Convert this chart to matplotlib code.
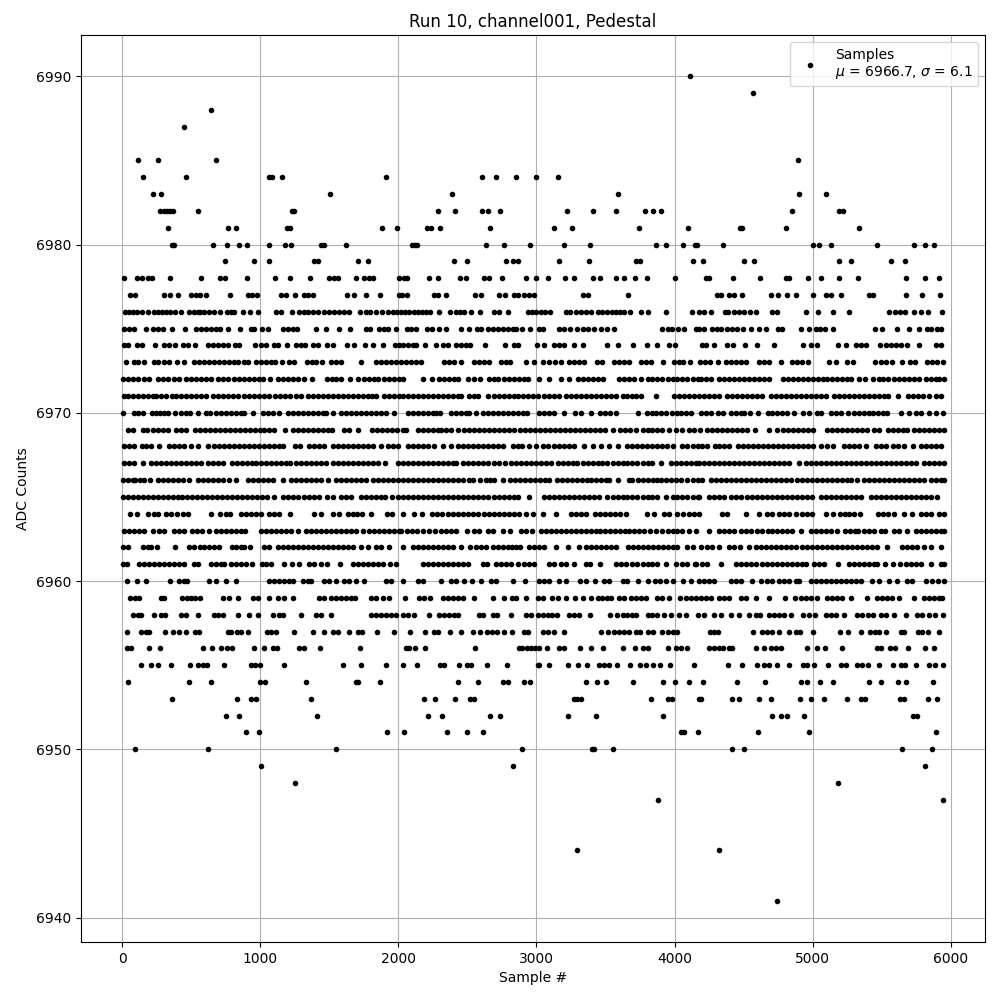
import matplotlib
matplotlib.use("Agg")
import matplotlib.pyplot as plt

# Sample numbers, grouped by the ADC count they sit on
s6990 = [4110]
s6989 = [4566]
s6988 = [644]
s6987 = [449]
s6985 = [116, 260, 680, 4892]
s6984 = [152, 463, 1064, 1085, 1158, 1910, 2605, 2706, 2851, 2996, 3155]
s6983 = [224, 282, 1505, 2388, 3589, 4899, 5094]
s6982 = [275, 304, 326, 347, 369, 550, 1230, 1245, 2287, 2410, 2605, 2648, 2735, 3220, 3408, 3575, 3784, 3842, 3900, 4850, 5188, 5217]
s6981 = [333, 767, 825, 1194, 1216, 1881, 1990, 2207, 2236, 2301, 2663, 3126, 3256, 3741, 4096, 4472, 4486, 4805, 5333]
s6980 = [362, 376, 658, 760, 847, 905, 1064, 1180, 1223, 1440, 1462, 1621, 2098, 2120, 2135, 2634, 2764, 2952, 3198, 3386, 3864, 3936, 4060, 4146, 4161, 4349, 5000, 5043, 5130, 5463, 5731, 5810, 5875]
s6979 = [745, 958, 1066, 1392, 1421, 1708, 1782, 2405, 2499, 2781, 2829, 2863, 3165, 3382, 3719, 3748, 4137, 4207, 4503, 4576, 5191, 5278, 5567, 5668]
s6978 = [17, 108, 142, 186, 215, 350, 569, 711, 748, 907, 1109, 1213, 1363, 1500, 1532, 1560, 1696, 1754, 1785, 1814, 2007, 2043, 2062, 2224, 2289, 2448, 2489, 2617, 2653, 2752, 2926, 2998, 3085, 3208, 3273, 3411, 3461, 3577, 3635, 3715, 3801, 4004, 4226, 4250, 4424, 4619, 4805, 4829, 4966, 5060, 5191, 5328, 5676, 5813, 5914]
s6977 = [60, 96, 306, 350, 408, 499, 535, 567, 608, 784, 909, 938, 979, 1150, 1187, 1254, 1319, 1348, 1382, 1628, 1681, 1768, 1867, 2007, 2025, 2060, 2260, 2289, 2347, 2554, 2598, 2731, 2774, 2834, 2868, 2907, 2948, 2984, 3334, 3375, 3664, 4306, 4334, 4395, 4431, 4489, 4696, 4749, 4814, 4880, 5003, 5094, 5130, 5205, 5408, 5439, 5676, 5791, 5924]
s6976 = [22, 51, 80, 108, 142, 190, 234, 263, 292, 321, 350, 383, 427, 487, 519, 548, 567, 596, 629, 663, 711, 760, 789, 813, 873, 926, 986, 1114, 1150, 1228, 1283, 1315, 1348, 1380, 1416, 1459, 1500, 1536, 1573, 1609, 1645, 1725, 1766, 1797, 1838, 1881, 1927, 1958, 1990, 2019, 2050, 2080, 2110, 2140, 2170, 2200, 2231, 2296, 2376, 2417, 2445, 2475, 2525, 2593, 2694, 2731, 2796, 2936, 2965, 3000, 3030, 3060, 3100, 3213, 3245, 3285, 3321, 3358, 3394, 3442, 3478, 3514, 3545, 3575, 3605, 3635, 3678, 3756, 3809, 3939, 4129, 4178, 4214, 4267, 4366, 4388, 4431, 4467, 4503, 4544, 4590, 4708, 4740, 4952, 5039, 5150, 5263, 5552, 5596, 5630, 5666, 5733, 5784, 5835, 5938]
s6975 = [17, 53, 84, 174, 222, 258, 294, 359, 458, 535, 572, 608, 644, 680, 707, 767, 851, 933, 957, 1011, 1054, 1162, 1199, 1235, 1264, 1406, 1476, 1570, 1652, 1766, 1792, 1862, 1893, 1923, 1983, 2062, 2091, 2128, 2207, 2241, 2296, 2347, 2456, 2513, 2569, 2598, 2646, 2682, 2718, 2755, 2791, 2827, 2851, 2892, 2955, 3020, 3044, 3160, 3201, 3244, 3297, 3334, 3370, 3418, 3466, 3514, 3563, 3912, 3949, 3978, 4026, 4069, 4153, 4178, 4214, 4274, 4306, 4334, 4383, 4419, 4450, 4496, 4554, 4612, 4665, 4749, 4781, 4916, 4976, 5022, 5053, 5087, 5150, 5449, 5502, 5610, 5700, 5767, 5825, 5859, 5902, 5931]
s6974 = [17, 46, 108, 142, 241, 306, 342, 383, 444, 480, 531, 620, 656, 692, 728, 765, 818, 849, 962, 1006, 1042, 1097, 1131, 1194, 1259, 1295, 1324, 1380, 1421, 1481, 1524, 1630, 1681, 1761, 1819, 1886, 1975, 2007, 2031, 2067, 2103, 2128, 2195, 2272, 2320, 2357, 2417, 2453, 2489, 2521, 2629, 2774, 2834, 2868, 3001, 3056, 3124, 3165, 3196, 3273, 3338, 3514, 3592, 3700, 3801, 3874, 3961, 4002, 4195, 4226, 4286, 4378, 4426, 4510, 4595, 4720, 4933, 4986, 5034, 5183, 5244, 5311, 5347, 5386, 5487, 5528, 5565, 5601, 5637, 5685, 5770, 5890, 5926]
s6973 = [29, 89, 118, 162, 229, 263, 301, 342, 395, 451, 519, 559, 596, 632, 668, 704, 740, 777, 813, 837, 885, 909, 970, 1006, 1042, 1078, 1107, 1155, 1211, 1242, 1339, 1372, 1404, 1450, 1512, 1548, 1585, 1729, 1838, 1874, 1910, 1946, 1983, 2019, 2055, 2091, 2128, 2164, 2333, 2369, 2405, 2453, 2545, 2586, 2622, 2658, 2743, 2779, 2810, 2923, 2979, 3051, 3092, 3133, 3177, 3237, 3273, 3309, 3346, 3435, 3478, 3563, 3599, 3635, 3671, 3756, 3792, 3828, 3917, 3997, 4033, 4064, 4113, 4185, 4219, 4257, 4315, 4371, 4407, 4443, 4479, 4515, 4612, 4648, 4684, 4773, 4853, 4889, 4925, 4966, 5118, 5167, 5251, 5294, 5449, 5492, 5528, 5577, 5649, 5704, 5738, 5830, 5866, 5902, 5946]
s6972 = [5, 41, 82, 113, 162, 198, 263, 299, 330, 379, 415, 463, 499, 535, 572, 608, 644, 692, 728, 765, 813, 849, 885, 921, 957, 994, 1023, 1073, 1126, 1162, 1199, 1235, 1271, 1319, 1372, 1483, 1517, 1548, 1585, 1652, 1710, 1754, 1790, 1826, 1855, 1898, 1934, 1966, 2007, 2031, 2176, 2243, 2296, 2333, 2369, 2405, 2434, 2501, 2545, 2593, 2658, 2694, 2718, 2767, 2803, 2839, 2875, 2911, 2936, 3020, 3092, 3177, 3237, 3302, 3338, 3375, 3411, 3447, 3485, 3599, 3635, 3671, 3707, 3756, 3804, 3840, 3876, 3912, 3949, 3985, 4021, 4057, 4093, 4130, 4166, 4190, 4226, 4267, 4322, 4359, 4395, 4431, 4467, 4503, 4539, 4576, 4612, 4648, 4684, 4785, 4822, 4858, 4894, 4930, 4966, 5003, 5039, 5075, 5106, 5142, 5179, 5215, 5251, 5275, 5335, 5379, 5437, 5480, 5511, 5545, 5589, 5625, 5661, 5697, 5733, 5770, 5818, 5854, 5890, 5914, 5950]
s6971 = [12, 46, 80, 113, 149, 186, 222, 246, 282, 318, 359, 391, 427, 463, 499, 535, 572, 608, 656, 692, 728, 765, 801, 837, 885, 921, 957, 994, 1030, 1066, 1107, 1143, 1179, 1216, 1259, 1295, 1343, 1380, 1416, 1452, 1488, 1524, 1560, 1597, 1633, 1669, 1705, 1741, 1778, 1807, 1838, 1898, 1934, 1971, 2007, 2031, 2067, 2103, 2140, 2176, 2212, 2248, 2284, 2320, 2357, 2393, 2429, 2453, 2513, 2550, 2579, 2651, 2694, 2731, 2767, 2803, 2839, 2863, 2899, 2936, 2972, 3008, 3056, 3092, 3128, 3165, 3213, 3249, 3285, 3321, 3358, 3394, 3430, 3466, 3502, 3539, 3575, 3623, 3659, 3695, 3719, 3760, 3867, 3997, 4033, 4069, 4105, 4141, 4178, 4214, 4250, 4286, 4322, 4383, 4419, 4455, 4491, 4527, 4564, 4600, 4636, 4696, 4732, 4769, 4805, 4841, 4877, 4913, 4950, 4986, 5022, 5058, 5094, 5155, 5191, 5227, 5263, 5299, 5335, 5372, 5408, 5444, 5480, 5516, 5545, 5615, 5690, 5726, 5762, 5798, 5842, 5890, 5926]
s6970 = [10, 84, 118, 149, 215, 246, 277, 306, 330, 383, 427, 463, 494, 552, 608, 639, 680, 716, 753, 789, 825, 861, 885, 945, 1023, 1054, 1090, 1138, 1199, 1235, 1271, 1307, 1343, 1380, 1416, 1452, 1476, 1529, 1585, 1621, 1657, 1693, 1729, 1766, 1802, 1838, 1874, 1910, 1971, 2072, 2103, 2140, 2176, 2212, 2248, 2272, 2304, 2381, 2417, 2453, 2489, 2513, 2564, 2610, 2646, 2682, 2718, 2755, 2791, 2827, 2863, 2899, 2931, 3020, 3056, 3092, 3128, 3196, 3281, 3321, 3396, 3459, 3495, 3534, 3575, 3736, 3799, 3833, 3869, 3905, 3941, 3978, 4014, 4045, 4081, 4117, 4190, 4226, 4267, 4315, 4354, 4407, 4443, 4479, 4503, 4544, 4605, 4677, 4708, 4744, 4781, 4817, 4865, 4933, 4974, 5029, 5058, 5130, 5167, 5203, 5258, 5299, 5335, 5372, 5408, 5439, 5473, 5509, 5540, 5637, 5697, 5748, 5782, 5842, 5890, 5943]
s6969 = [41, 77, 149, 178, 222, 258, 294, 330, 391, 427, 463, 531, 567, 603, 639, 675, 711, 748, 784, 820, 856, 892, 929, 965, 1001, 1030, 1066, 1102, 1179, 1235, 1271, 1307, 1343, 1380, 1416, 1452, 1488, 1517, 1604, 1645, 1705, 1807, 1843, 1879, 1915, 1951, 1987, 2031, 2055, 2140, 2176, 2212, 2248, 2284, 2308, 2345, 2381, 2429, 2477, 2513, 2550, 2586, 2622, 2658, 2694, 2731, 2767, 2803, 2839, 2882, 2919, 2955, 2991, 3027, 3063, 3100, 3136, 3172, 3208, 3244, 3281, 3317, 3353, 3389, 3425, 3461, 3498, 3551, 3604, 3640, 3676, 3719, 3768, 3804, 3840, 3876, 3912, 3961, 4009, 4057, 4105, 4141, 4182, 4238, 4274, 4310, 4346, 4383, 4419, 4455, 4491, 4527, 4583, 4684, 4740, 4788, 4824, 4860, 4896, 4933, 4969, 5005, 5106, 5142, 5179, 5215, 5251, 5287, 5319, 5360, 5391, 5444, 5483, 5548, 5584, 5620, 5656, 5685, 5733, 5770, 5806, 5842, 5878, 5914, 5950]
s6968 = [12, 53, 89, 142, 174, 210, 270, 342, 379, 415, 451, 499, 548, 620, 668, 704, 740, 777, 813, 849, 885, 921, 957, 994, 1030, 1066, 1102, 1138, 1162, 1252, 1288, 1356, 1392, 1428, 1459, 1524, 1560, 1597, 1633, 1669, 1705, 1741, 1778, 1814, 1874, 1922, 1958, 1995, 2072, 2108, 2144, 2181, 2217, 2260, 2320, 2381, 2429, 2465, 2501, 2538, 2574, 2610, 2646, 2682, 2723, 2755, 2832, 2868, 2892, 2948, 2996, 3051, 3087, 3124, 3160, 3196, 3237, 3273, 3341, 3406, 3466, 3527, 3587, 3654, 3691, 3727, 3763, 3799, 3835, 3871, 3908, 3944, 3990, 4057, 4093, 4130, 4166, 4202, 4238, 4291, 4322, 4359, 4395, 4460, 4496, 4532, 4568, 4605, 4641, 4677, 4713, 4749, 4785, 4822, 4858, 4894, 4930, 4966, 5003, 5058, 5101, 5150, 5227, 5263, 5299, 5335, 5384, 5456, 5492, 5528, 5584, 5620, 5661, 5726, 5782, 5818, 5854, 5890, 5926]
s6967 = [17, 53, 89, 154, 210, 246, 282, 318, 354, 391, 427, 463, 499, 535, 572, 620, 656, 692, 728, 794, 830, 866, 902, 938, 970, 1006, 1042, 1078, 1114, 1150, 1187, 1218, 1259, 1295, 1331, 1368, 1404, 1440, 1476, 1524, 1560, 1597, 1633, 1669, 1705, 1741, 1778, 1814, 1855, 1905, 1995, 2031, 2067, 2103, 2140, 2176, 2212, 2248, 2284, 2320, 2357, 2393, 2417, 2465, 2501, 2538, 2574, 2610, 2646, 2694, 2731, 2771, 2815, 2851, 2887, 2923, 2960, 2996, 3032, 3068, 3104, 3153, 3189, 3225, 3261, 3297, 3334, 3370, 3406, 3442, 3478, 3514, 3551, 3587, 3623, 3659, 3695, 3731, 3768, 3804, 3840, 3905, 3973, 4009, 4045, 4081, 4117, 4153, 4178, 4214, 4250, 4286, 4322, 4359, 4395, 4431, 4467, 4503, 4539, 4576, 4612, 4648, 4684, 4720, 4757, 4793, 4829, 4901, 4950, 4986, 5022, 5058, 5094, 5130, 5167, 5203, 5239, 5275, 5311, 5347, 5384, 5420, 5456, 5492, 5528, 5565, 5601, 5637, 5673, 5709, 5745, 5806, 5842, 5878, 5914, 5950]
s6966 = [5, 41, 77, 94, 133, 162, 205, 263, 299, 335, 371, 408, 444, 487, 548, 584, 620, 656, 692, 728, 777, 827, 909, 945, 982, 1018, 1054, 1090, 1167, 1223, 1259, 1295, 1331, 1368, 1404, 1440, 1488, 1548, 1585, 1621, 1657, 1693, 1729, 1766, 1814, 1850, 1886, 1922, 1958, 1995, 2031, 2067, 2103, 2140, 2176, 2212, 2248, 2284, 2320, 2357, 2393, 2429, 2465, 2513, 2538, 2593, 2634, 2665, 2694, 2755, 2810, 2846, 2882, 2919, 2955, 2991, 3027, 3063, 3092, 3148, 3184, 3220, 3256, 3292, 3329, 3365, 3394, 3430, 3466, 3502, 3527, 3587, 3671, 3695, 3736, 3772, 3809, 3845, 3871, 3900, 3936, 3973, 4009, 4045, 4093, 4130, 4166, 4202, 4262, 4298, 4334, 4371, 4407, 4443, 4479, 4515, 4552, 4588, 4624, 4660, 4696, 4732, 4769, 4805, 4841, 4884, 4921, 4957, 4993, 5029, 5065, 5101, 5138, 5174, 5210, 5246, 5275, 5319, 5372, 5408, 5444, 5480, 5516, 5552, 5589, 5625, 5661, 5697, 5733, 5770, 5806, 5854, 5890, 5926, 5950]
s6965 = [5, 41, 77, 113, 149, 186, 222, 258, 294, 330, 366, 403, 434, 470, 506, 543, 579, 615, 651, 687, 723, 760, 796, 832, 868, 904, 940, 977, 1013, 1049, 1097, 1162, 1199, 1235, 1271, 1319, 1356, 1392, 1428, 1483, 1524, 1585, 1621, 1657, 1729, 1766, 1802, 1838, 1874, 1903, 1951, 1995, 2031, 2067, 2103, 2140, 2176, 2212, 2248, 2284, 2320, 2361, 2398, 2434, 2470, 2506, 2542, 2579, 2615, 2651, 2690, 2726, 2762, 2798, 2834, 2870, 2948, 3056, 3092, 3128, 3165, 3201, 3237, 3273, 3309, 3346, 3382, 3418, 3454, 3514, 3551, 3587, 3623, 3659, 3695, 3731, 3768, 3804, 3840, 3876, 3936, 3985, 4021, 4057, 4093, 4130, 4166, 4178, 4250, 4286, 4322, 4359, 4407, 4443, 4479, 4527, 4564, 4600, 4636, 4672, 4708, 4744, 4781, 4817, 4853, 4889, 4925, 4961, 4998, 5058, 5094, 5130, 5167, 5203, 5239, 5275, 5311, 5347, 5420, 5456, 5492, 5528, 5565, 5601, 5637, 5673, 5709, 5745, 5782, 5818, 5854, 5902]
s6964 = [60, 108, 186, 234, 263, 318, 354, 398, 439, 480, 644, 711, 753, 784, 861, 897, 933, 970, 1006, 1066, 1097, 1134, 1218, 1392, 1440, 1524, 1573, 1638, 1669, 1700, 1737, 1802, 1918, 1951, 2031, 2111, 2169, 2241, 2279, 2313, 2357, 2393, 2429, 2465, 2501, 2538, 2579, 2622, 2658, 2694, 2731, 2767, 2803, 2839, 2875, 2923, 2972, 3044, 3143, 3249, 3285, 3321, 3358, 3423, 3459, 3495, 3531, 3568, 3604, 3647, 3799, 3852, 3924, 3961, 4021, 4064, 4105, 4141, 4178, 4346, 4383, 4515, 4612, 4672, 4708, 4757, 4793, 4829, 4877, 4925, 4961, 4998, 5094, 5150, 5198, 5232, 5263, 5299, 5343, 5473, 5509, 5545, 5589, 5661, 5716, 5782, 5818, 5854, 5914, 5950]
s6963 = [17, 53, 89, 125, 162, 222, 270, 306, 374, 410, 446, 504, 543, 579, 632, 680, 716, 753, 789, 825, 861, 890, 1006, 1042, 1078, 1114, 1150, 1187, 1223, 1276, 1331, 1368, 1404, 1440, 1476, 1512, 1548, 1585, 1621, 1657, 1693, 1746, 1790, 1826, 1862, 1898, 1934, 1971, 2007, 2019, 2062, 2099, 2135, 2176, 2224, 2267, 2308, 2345, 2381, 2417, 2497, 2545, 2581, 2646, 2682, 2755, 2810, 2887, 2923, 2965, 3032, 3068, 3104, 3140, 3177, 3213, 3249, 3285, 3321, 3358, 3394, 3430, 3459, 3495, 3531, 3568, 3604, 3640, 3671, 3707, 3743, 3780, 3823, 3864, 3912, 3949, 3985, 4021, 4057, 4105, 4154, 4250, 4322, 4359, 4395, 4431, 4479, 4515, 4552, 4595, 4636, 4677, 4708, 4744, 4781, 4817, 4853, 4913, 4991, 5027, 5063, 5099, 5135, 5179, 5232, 5268, 5304, 5328, 5372, 5408, 5444, 5492, 5521, 5589, 5625, 5680, 5745, 5782, 5818, 5854, 5890, 5926, 5950]
s6962 = [5, 46, 149, 186, 210, 253, 386, 487, 519, 567, 596, 632, 663, 704, 794, 825, 861, 885, 929, 1025, 1066, 1126, 1162, 1199, 1235, 1271, 1307, 1343, 1380, 1416, 1452, 1488, 1524, 1560, 1597, 1633, 1669, 1729, 1778, 1838, 1874, 1934, 2031, 2103, 2140, 2176, 2212, 2248, 2284, 2320, 2357, 2393, 2453, 2521, 2562, 2598, 2634, 2682, 2718, 2755, 2791, 2820, 2851, 2882, 2948, 2984, 3020, 3056, 3140, 3230, 3305, 3358, 3394, 3430, 3466, 3502, 3539, 3575, 3664, 3700, 3736, 3772, 3809, 3845, 3881, 3917, 3953, 3990, 4021, 4093, 4130, 4190, 4238, 4274, 4322, 4395, 4431, 4474, 4539, 4588, 4624, 4660, 4696, 4732, 4769, 4805, 4841, 4877, 4925, 4961, 4998, 5034, 5070, 5106, 5142, 5179, 5215, 5251, 5287, 5323, 5360, 5396, 5432, 5468, 5536, 5649, 5685, 5721, 5757, 5806, 5854, 5926]
s6961 = [5, 36, 125, 157, 198, 234, 270, 306, 342, 379, 415, 451, 519, 552, 644, 680, 716, 740, 789, 825, 861, 897, 938, 1011, 1042, 1078, 1170, 1228, 1283, 1356, 1392, 1440, 1483, 1580, 1669, 1705, 1741, 1778, 1814, 1850, 1886, 1942, 1983, 2176, 2212, 2248, 2284, 2320, 2357, 2393, 2429, 2465, 2501, 2610, 2641, 2706, 2743, 2779, 2815, 2863, 2911, 2948, 2984, 3092, 3128, 3177, 3213, 3273, 3358, 3389, 3461, 3575, 3611, 3647, 3695, 3731, 3768, 3804, 3840, 3876, 3936, 4009, 4057, 4093, 4154, 4146, 4202, 4238, 4339, 4443, 4479, 4515, 4552, 4588, 4636, 4672, 4708, 4744, 4781, 4817, 4853, 4889, 4925, 4950, 5010, 5046, 5082, 5186, 5263, 5299, 5335, 5372, 5408, 5444, 5468, 5521, 5581, 5632, 5673, 5709, 5745, 5782, 5854, 5931, 5950]
s6960 = [34, 111, 176, 350, 415, 451, 470, 632, 680, 753, 827, 1066, 1102, 1138, 1175, 1211, 1235, 1307, 1343, 1368, 1464, 1500, 1548, 1609, 1645, 1693, 1749, 1910, 1946, 2031, 2140, 2176, 2308, 2381, 2417, 2477, 2530, 2598, 2670, 2706, 2827, 2916, 3020, 3056, 3092, 3165, 3213, 3314, 3362, 3423, 3490, 3527, 3623, 3659, 3736, 3809, 3857, 3893, 3936, 3985, 4064, 4117, 4178, 4214, 4250, 4286, 4407, 4443, 4479, 4564, 4624, 4667, 4708, 4757, 4793, 4829, 4877, 4901, 4986, 5022, 5058, 5094, 5130, 5167, 5203, 5239, 5275, 5311, 5347, 5432, 5480, 5552, 5608, 5685, 5721, 5823, 5866, 5907, 5950]
s6959 = [60, 96, 125, 282, 306, 434, 470, 499, 528, 567, 728, 777, 842, 945, 982, 1061, 1131, 1175, 1235, 1428, 1459, 1512, 1548, 1585, 1621, 1657, 1686, 1802, 1838, 1886, 1934, 2048, 2152, 2188, 2231, 2320, 2357, 2393, 2429, 2465, 2550, 2682, 2767, 2822, 2851, 2923, 3008, 3044, 3116, 3153, 3213, 3278, 3334, 3394, 3442, 3478, 3514, 3543, 3599, 3635, 3683, 3719, 3756, 3792, 3876, 3912, 3961, 4040, 4081, 4117, 4153, 4190, 4226, 4262, 4322, 4359, 4395, 4479, 4515, 4588, 4684, 4798, 4872, 4913, 4950, 4986, 5034, 5106, 5142, 5179, 5215, 5275, 5396, 5468, 5504, 5540, 5577, 5625, 5733, 5806, 5842, 5878, 5914, 5938]
s6958 = [77, 113, 137, 234, 282, 311, 427, 463, 548, 668, 692, 733, 842, 921, 986, 1090, 1138, 1162, 1295, 1404, 1440, 1512, 1802, 1838, 1874, 1910, 1946, 1983, 2031, 2067, 2111, 2224, 2296, 2333, 2369, 2405, 2429, 2586, 2615, 2682, 2714, 2817, 2923, 2960, 3008, 3044, 3080, 3116, 3148, 3237, 3273, 3309, 3389, 3534, 3580, 3623, 3659, 3695, 3719, 3804, 3840, 3876, 3924, 3973, 4033, 4084, 4173, 4214, 4286, 4334, 4407, 4467, 4539, 4588, 4619, 4684, 4720, 4757, 4793, 4846, 4933, 4974, 5015, 5094, 5130, 5167, 5227, 5319, 5360, 5400, 5439, 5492, 5528, 5589, 5676, 5753, 5794, 5842, 5885, 5943]
s6957 = [36, 137, 174, 198, 314, 371, 415, 465, 528, 559, 769, 789, 830, 861, 909, 1047, 1078, 1114, 1247, 1384, 1464, 1524, 1563, 1645, 1705, 1734, 1848, 1966, 2087, 2195, 2255, 2289, 2376, 2451, 2542, 2593, 2639, 2675, 2711, 2762, 2825, 2907, 2936, 3044, 3080, 3128, 3198, 3466, 3519, 3563, 3599, 3635, 3671, 3719, 3748, 3809, 3845, 3912, 3949, 3985, 4016, 4257, 4286, 4315, 4568, 4636, 4672, 4708, 4757, 4829, 4877, 4908, 5003, 5196, 5256, 5350, 5415, 5451, 5483, 5531, 5637, 5661, 5762, 5794, 5835, 5914]
s6956 = [36, 65, 193, 277, 588, 654, 714, 757, 798, 957, 1030, 1090, 1119, 1283, 1319, 1435, 1724, 2055, 2079, 2123, 2195, 2557, 2875, 2892, 2931, 2960, 2989, 3020, 3078, 3165, 3196, 3317, 3394, 3483, 3628, 3715, 3768, 3804, 3953, 4009, 4045, 4089, 4250, 4286, 4322, 4354, 4395, 4419, 4588, 4648, 4696, 4732, 4771, 4959, 5031, 5089, 5212, 5468, 5492, 5560, 5594, 5688, 5813, 5878]
s6955 = [140, 212, 263, 357, 494, 552, 584, 615, 740, 933, 965, 996, 1175, 1602, 1732, 1913, 2036, 2137, 2304, 2333, 2441, 2497, 2526, 2641, 2788, 3008, 3022, 3092, 3230, 3302, 3367, 3454, 3490, 3527, 3584, 3678, 3748, 3794, 3845, 3895, 3965, 4141, 4388, 4489, 4600, 4648, 4684, 4742, 4829, 4930, 4957, 5010, 5109, 5208, 5244, 5323, 5360, 5400, 5480, 5581, 5637, 5666, 5748, 5842, 5888, 5943]
s6954 = [46, 487, 646, 999, 1035, 1334, 1693, 1710, 1869, 2434, 2579, 2760, 2796, 2911, 2955, 3360, 3440, 3505, 3700, 3917, 4004, 4105, 4207, 4455, 4653, 4916, 4959, 5053, 5145, 5408, 5495, 5618, 5678, 5868]
s6953 = [364, 835, 933, 970, 1370, 2188, 2267, 2412, 2521, 2550, 3273, 3297, 3326, 3828, 3949, 3978, 4178, 4192, 4416, 4470, 4612, 4699, 4908, 4988, 5082, 5249, 5347, 5376, 5630, 5661, 5835, 5900]
s6952 = [755, 849, 1413, 2217, 2318, 2665, 2738, 3230, 3432, 3917, 4708, 4773, 4814, 4937, 5726, 5757]
s6951 = [897, 991, 1918, 2041, 2352, 2497, 2612, 4045, 4067, 4168, 4602, 4971, 5890]
s6950 = [94, 622, 1549, 2894, 3401, 3415, 3553, 4414, 4501, 5644, 5861]
s6949 = [1006, 2829, 5810]
s6948 = [1252, 5181]
s6947 = [3879, 5941]
s6944 = [3292, 4320]
s6941 = [4739]

levels = [6990, 6989, 6988, 6987, 6985, 6984, 6983, 6982, 6981, 6980, 6979, 6978, 6977,
          6976, 6975, 6974, 6973, 6972, 6971, 6970, 6969, 6968, 6967, 6966, 6965, 6964,
          6963, 6962, 6961, 6960, 6959, 6958, 6957, 6956, 6955, 6954, 6953, 6952, 6951,
          6950, 6949, 6948, 6947, 6944, 6941]
rows = [s6990, s6989, s6988, s6987, s6985, s6984, s6983, s6982, s6981, s6980, s6979, s6978, s6977,
        s6976, s6975, s6974, s6973, s6972, s6971, s6970, s6969, s6968, s6967, s6966, s6965, s6964,
        s6963, s6962, s6961, s6960, s6959, s6958, s6957, s6956, s6955, s6954, s6953, s6952, s6951,
        s6950, s6949, s6948, s6947, s6944, s6941]

xs, ys = [], []
for lv, row in zip(levels, rows):
    xs.extend(row)
    ys.extend([lv] * len(row))

fig, ax = plt.subplots(figsize=(10, 10), dpi=100)
ax.plot(xs, ys, 'k.', label='Samples\n$\\mu$ = 6966.7, $\\sigma$ = 6.1')
ax.set_xlim(-297.5, 6247.5)
ax.set_ylim(6938.55, 6992.45)
ax.set_title('Run 10, channel001, Pedestal')
ax.set_xlabel('Sample #')
ax.set_ylabel('ADC Counts')
ax.grid(True)
ax.legend(loc='upper right')
fig.subplots_adjust(left=0.081, right=0.985, bottom=0.058, top=0.965)
fig.savefig('out.png', dpi=100)
